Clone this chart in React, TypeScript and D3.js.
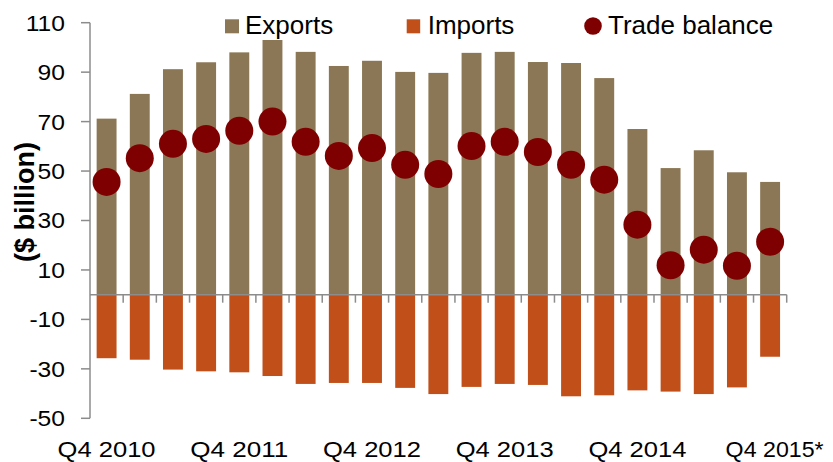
import React from "react";
import * as d3 from "d3";

const categories = [
  "Q4 2010", "Q1 2011", "Q2 2011", "Q3 2011", "Q4 2011", "Q1 2012", "Q2 2012",
  "Q3 2012", "Q4 2012", "Q1 2013", "Q2 2013", "Q3 2013", "Q4 2013", "Q1 2014",
  "Q2 2014", "Q3 2014", "Q4 2014", "Q1 2015", "Q2 2015", "Q3 2015", "Q4 2015*",
];
const exportsVals = [71.2, 81.2, 91.2, 94.0, 98.0, 103.0, 98.2, 92.5, 94.6, 90.1, 89.7, 97.8, 98.2, 94.1, 93.7, 87.6, 67.0, 51.2, 58.4, 49.5, 45.6];
const importsVals = [-25.7, -26.3, -30.3, -31.0, -31.4, -32.9, -36.1, -35.7, -35.7, -37.7, -40.2, -37.3, -36.1, -36.5, -41.1, -40.7, -38.7, -39.2, -40.2, -37.5, -25.1];
const balanceVals = [45.6, 55.2, 61.0, 63.0, 66.3, 70.0, 61.8, 56.1, 59.3, 52.5, 48.8, 60.1, 61.8, 57.7, 52.5, 46.5, 28.3, 11.9, 18.2, 11.7, 21.4];
const yTicks = [110, 90, 70, 50, 30, 10, -10, -30, -50];
const xLabelIdx = [0, 4, 8, 12, 16, 20];

const W = 833, H = 462;
const LEFT = 90, RIGHT = 786.7, TOP = 22.7, BOTTOM = 418.3;
const C_EXP = "#8B7755", C_IMP = "#C04F19", C_BAL = "#7F0000", C_AX = "#8C8C8C";
const FONT = "'Liberation Sans', Arial, sans-serif";

export default function App() {
  const idx = categories.map((_, i) => i);
  const x = d3.scaleBand<number>().domain(idx).range([LEFT, RIGHT]).paddingInner(0.4).paddingOuter(0.2);
  const y = d3.scaleLinear().domain([-50, 110]).range([BOTTOM, TOP]);
  const step = x.step();
  const bw = x.bandwidth();
  const y0 = y(0);
  const last = categories.length - 1;

  return (
    <svg width={W} height={H} style={{ position: "absolute", left: 0, top: 0, background: "#fff" }} fontFamily={FONT}>
      {exportsVals.map((v, i) => (
        <rect key={"e" + i} x={x(i)} y={y(v)} width={bw} height={y0 - y(v)} fill={C_EXP} />
      ))}
      {importsVals.map((v, i) => (
        <rect key={"m" + i} x={x(i)} y={y0} width={bw} height={y(v) - y0} fill={C_IMP} />
      ))}
      {/* y axis */}
      <line x1={LEFT} x2={LEFT} y1={TOP} y2={BOTTOM} stroke={C_AX} strokeWidth={1.5} />
      {yTicks.map((t) => (
        <g key={"yt" + t}>
          <line x1={LEFT - 9} x2={LEFT} y1={y(t)} y2={y(t)} stroke={C_AX} strokeWidth={1.5} />
          <text transform={`translate(65,${y(t)}) scale(1.12,1)`} dy="0.36em" textAnchor="end" fontSize={22} fill="#000">{t}</text>
        </g>
      ))}
      {/* zero axis */}
      <line x1={LEFT} x2={RIGHT} y1={y0} y2={y0} stroke={C_AX} strokeWidth={1.5} />
      {d3.range(1, categories.length + 1).map((k) => (
        <line key={"xt" + k} x1={LEFT + k * step} x2={LEFT + k * step} y1={y0} y2={y0 + 8} stroke={C_AX} strokeWidth={1.5} />
      ))}
      {balanceVals.map((v, i) => (
        <circle key={"b" + i} cx={(x(i) as number) + bw / 2} cy={y(v)} r={14} fill={C_BAL} />
      ))}
      {/* x labels */}
      {xLabelIdx.map((i) => (
        <text key={"xl" + i} x={(x(i) as number) + bw / 2 + (i === last ? 4.5 : 0)} y={457} textAnchor="middle"
          fontSize={22} textLength={98} lengthAdjust="spacingAndGlyphs" fill="#000">
          {categories[i]}
        </text>
      ))}
      {/* y label */}
      <text transform={`translate(34,202) rotate(-90)`} textAnchor="middle" fontSize={27} fontWeight="bold" fill="#000">($ billion)</text>
      {/* legend */}
      <rect x={225} y={19.3} width={14} height={14} fill={C_EXP} />
      <text x={245} y={34.3} fontSize={26} fill="#000">Exports</text>
      <rect x={406.7} y={19.3} width={13.5} height={14} fill={C_IMP} />
      <text x={427.7} y={34.3} fontSize={26} fill="#000">Imports</text>
      <circle cx={593} cy={26} r={8.8} fill={C_BAL} />
      <text x={608} y={34.3} fontSize={26} fill="#000">Trade balance</text>
    </svg>
  );
}
